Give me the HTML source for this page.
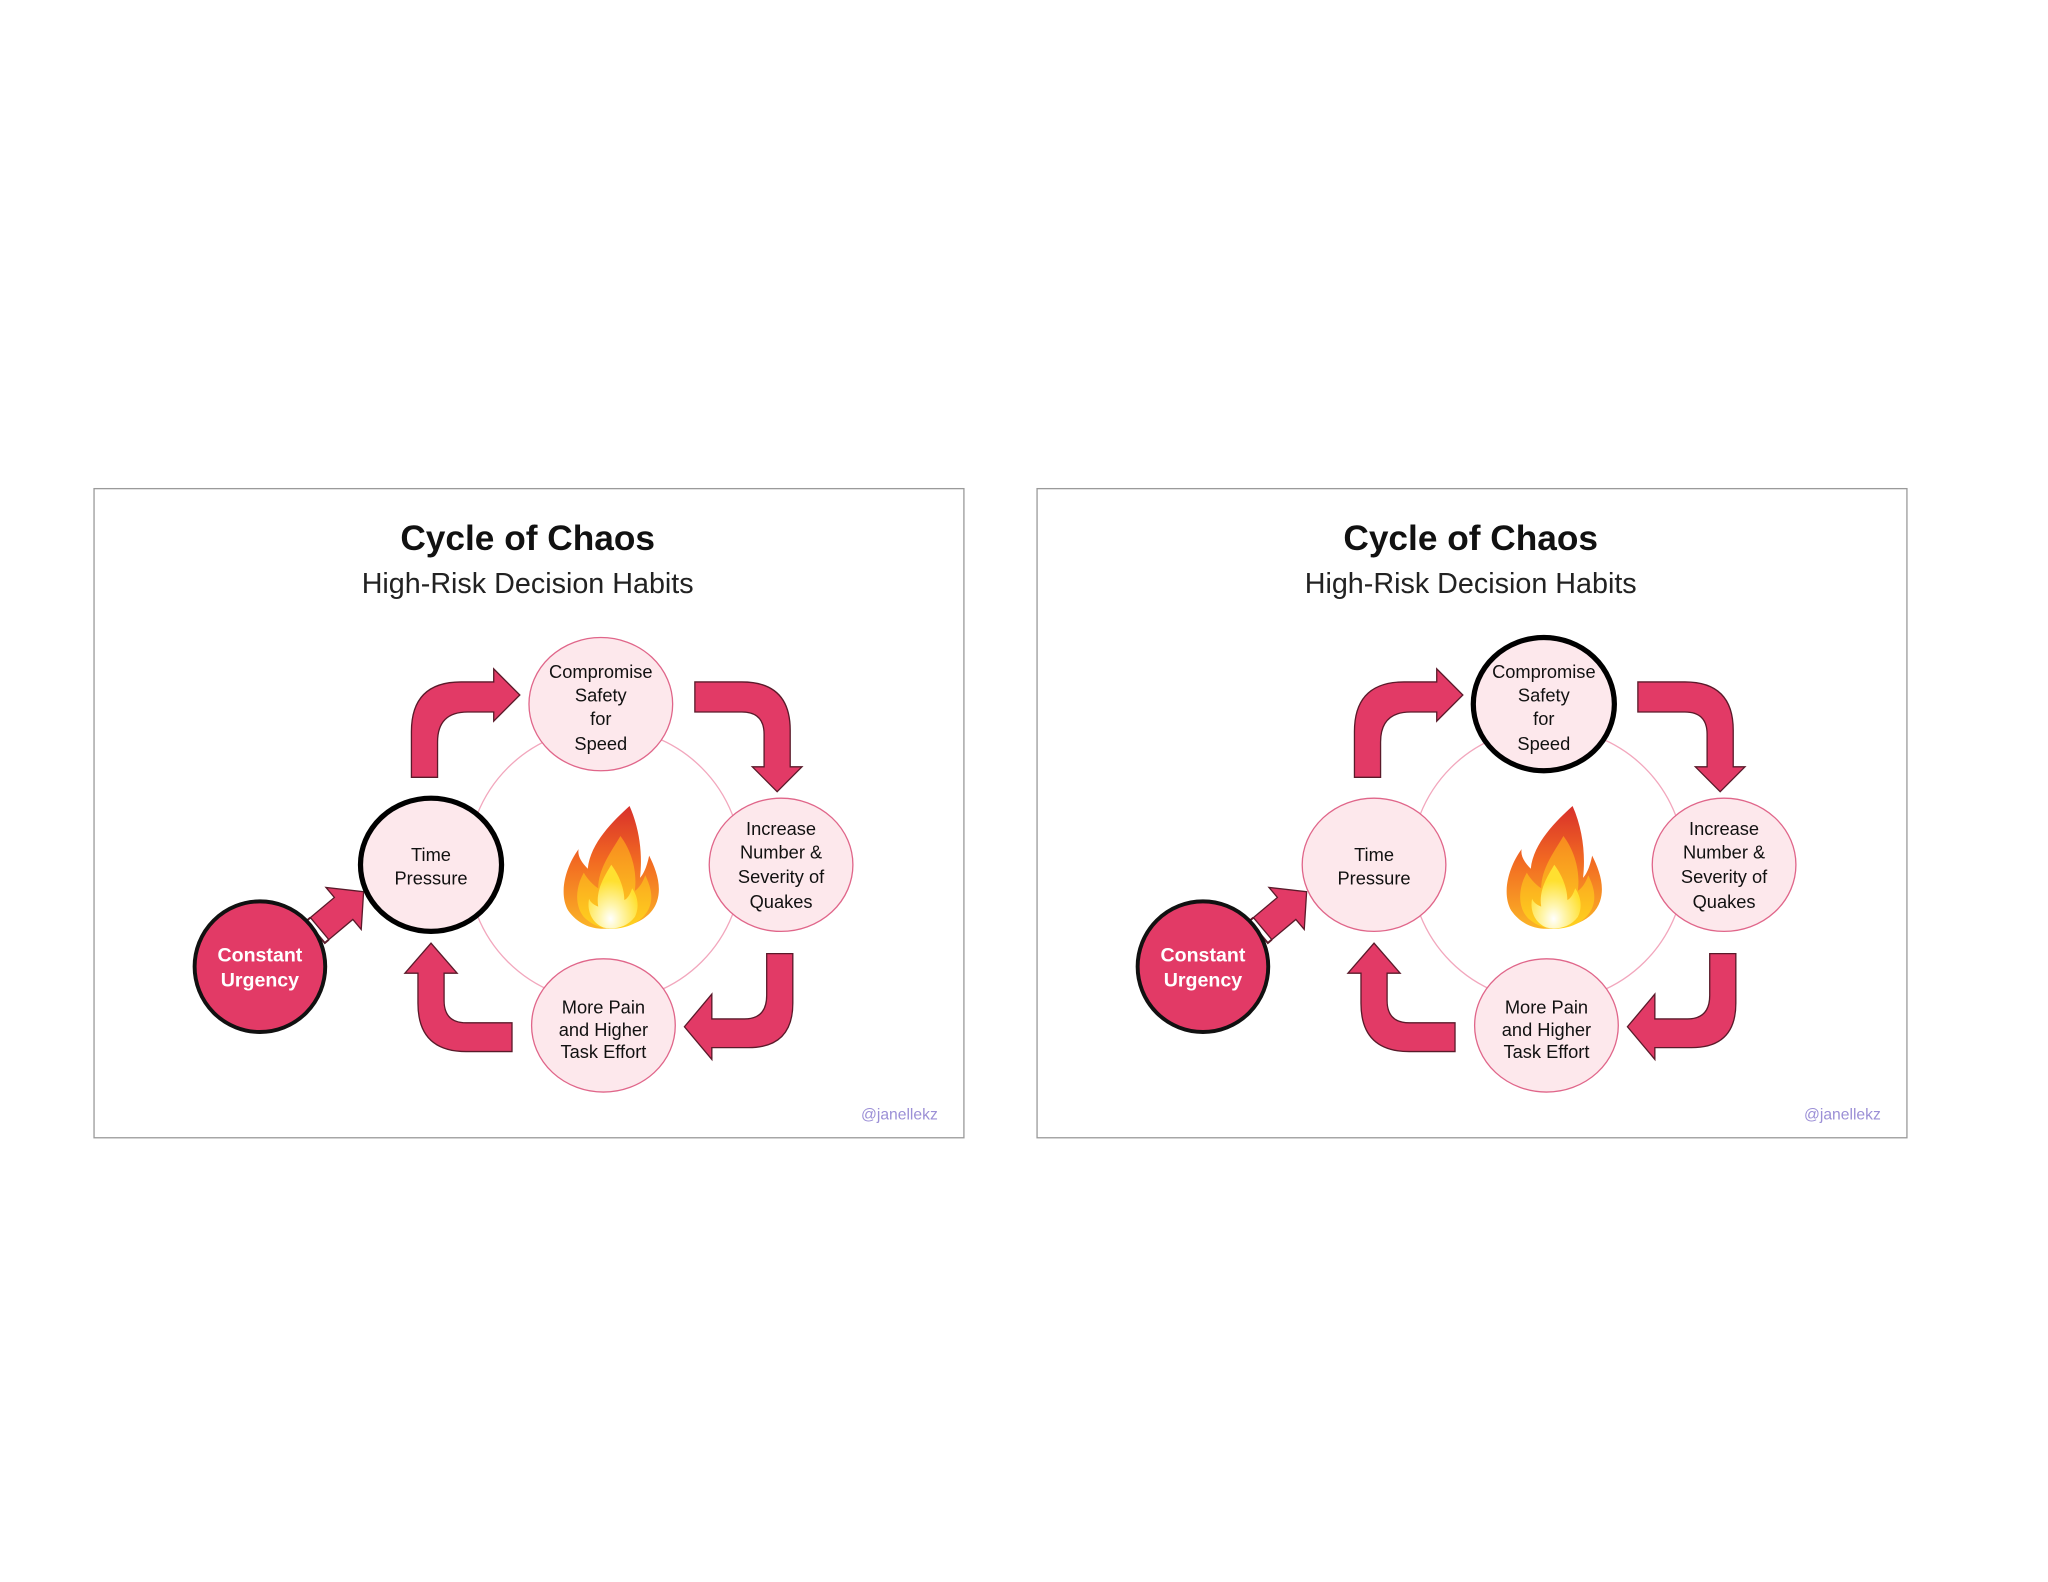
<!DOCTYPE html>
<html><head><meta charset="utf-8"><style>
html,body{margin:0;padding:0;background:#fff;}
svg{display:block;}
text{font-family:"Liberation Sans","DejaVu Sans",sans-serif;}
</style></head><body>
<svg width="2048" height="1582" viewBox="0 0 1568 1211" xmlns="http://www.w3.org/2000/svg">
<defs>
<linearGradient id="fo" x1="0" y1="0" x2="0" y2="1">
<stop offset="0" stop-color="#d8302b"/><stop offset="0.45" stop-color="#f26a22"/><stop offset="1" stop-color="#fbb526"/></linearGradient>
<linearGradient id="fm" x1="0" y1="0" x2="0" y2="1">
<stop offset="0" stop-color="#f78a1f"/><stop offset="1" stop-color="#ffd21f"/></linearGradient>
<radialGradient id="fi" cx="0.45" cy="0.85" r="0.6">
<stop offset="0" stop-color="#ffffff"/><stop offset="0.35" stop-color="#fff6b0"/><stop offset="1" stop-color="#ffe030"/></radialGradient>
</defs>
<rect width="1568" height="1211" fill="#fff"/>

<!-- LEFT PANEL -->
<g>
<rect x="72" y="374" width="666" height="497" fill="#fff" stroke="#9a9a9a" stroke-width="1"/>
<text x="404" y="421" text-anchor="middle" font-size="27" font-weight="bold" fill="#111">Cycle of Chaos</text>
<text x="404" y="454" text-anchor="middle" font-size="22" fill="#222">High-Risk Decision Habits</text>
<circle cx="463" cy="662" r="105" fill="none" stroke="#f2a7bd" stroke-width="1"/>
<path d="M315,595 L315,560 Q315,522 353,522 L378,522 L378,512 L398,532 L378,552 L378,545 L358,545 Q335,545 335,568 L335,595 Z" fill="#e23a66" stroke="#5a1a2a" stroke-width="1"/>
<path d="M532,522 L568,522 Q605,522 605,559 L605,587 L614,587 L595,606 L576,587 L585,587 L585,562 Q585,545 568,545 L532,545 Z" fill="#e23a66" stroke="#5a1a2a" stroke-width="1"/>
<path d="M587,730 L607,730 L607,768 Q607,802 573,802 L545,802 L545,811 L524,786 L545,761 L545,780 L570,780 Q587,780 587,762 Z" fill="#e23a66" stroke="#5a1a2a" stroke-width="1"/>
<path d="M392,783 L392,805 L357,805 Q320,805 320,768 L320,745 L310,745 L330,722 L350,745 L340,745 L340,766 Q340,783 357,783 Z" fill="#e23a66" stroke="#5a1a2a" stroke-width="1"/>
<g transform="translate(260,698) rotate(-40)">
<path d="M-20,-11 L4,-11 L4,-21 L24,0 L4,21 L4,11 L-20,11 Z" fill="#e23a66" stroke="#5a1a2a" stroke-width="1"/>
<path d="M-20,-11 L-24,-11 L-24,11 L-20,11 M-27,-11 L-27,11" stroke="#5a1a2a" stroke-width="1.5" fill="none"/>
</g>
<ellipse cx="460" cy="539" rx="55" ry="51" fill="#fde8ec" stroke="#e0668a" stroke-width="1"/>
<ellipse cx="598" cy="662" rx="55" ry="51" fill="#fde8ec" stroke="#e0668a" stroke-width="1"/>
<ellipse cx="462" cy="785" rx="55" ry="51" fill="#fde8ec" stroke="#e0668a" stroke-width="1"/>
<ellipse cx="330" cy="662" rx="54" ry="51" fill="#fde8ec" stroke="#000" stroke-width="4"/>
<ellipse cx="199" cy="740" rx="50" ry="50" fill="#e23a66" stroke="#111" stroke-width="3"/>
<g font-size="14" fill="#111" text-anchor="middle">
<text x="460" y="519">Compromise</text><text x="460" y="537">Safety</text><text x="460" y="555">for</text><text x="460" y="574">Speed</text>
<text x="598" y="639">Increase</text><text x="598" y="657">Number &amp;</text><text x="598" y="676">Severity of</text><text x="598" y="695">Quakes</text>
<text x="330" y="659">Time</text><text x="330" y="677">Pressure</text>
<text x="462" y="776">More Pain</text><text x="462" y="793">and Higher</text><text x="462" y="810">Task Effort</text>
</g>
<g font-size="15" font-weight="bold" fill="#fff" text-anchor="middle">
<text x="199" y="736">Constant</text><text x="199" y="755">Urgency</text>
</g>
<path d="M482,617 C470,628 452,645 450,665 C445,660 442,655 443,650 C432,665 428,685 435,697 C442,707 452,711 462,711 C480,711 498,705 503,690 C507,678 502,665 497,655 C495,665 492,670 490,672 C492,655 490,635 482,617 Z" fill="url(#fo)"/>
<path d="M475,640 C468,652 458,665 458,680 C452,676 448,670 447,668 C440,680 440,695 448,703 C455,709 462,711 468,711 C482,711 495,704 498,692 C500,684 497,676 494,670 C492,676 489,680 486,682 C488,668 484,652 475,640 Z" fill="url(#fm)"/>
<path d="M468,662 C462,672 456,682 458,694 C453,692 452,690 451,688 C449,698 454,707 462,710 C470,712 480,710 486,702 C490,694 488,686 484,680 C482,686 480,688 478,689 C478,680 474,670 468,662 Z" fill="url(#fi)"/>
<text x="718" y="857" text-anchor="end" font-size="12" fill="#9b8fd6">@janellekz</text>
</g>

<!-- RIGHT PANEL -->
<g transform="translate(722,0)">
<rect x="72" y="374" width="666" height="497" fill="#fff" stroke="#9a9a9a" stroke-width="1"/>
<text x="404" y="421" text-anchor="middle" font-size="27" font-weight="bold" fill="#111">Cycle of Chaos</text>
<text x="404" y="454" text-anchor="middle" font-size="22" fill="#222">High-Risk Decision Habits</text>
<circle cx="463" cy="662" r="105" fill="none" stroke="#f2a7bd" stroke-width="1"/>
<path d="M315,595 L315,560 Q315,522 353,522 L378,522 L378,512 L398,532 L378,552 L378,545 L358,545 Q335,545 335,568 L335,595 Z" fill="#e23a66" stroke="#5a1a2a" stroke-width="1"/>
<path d="M532,522 L568,522 Q605,522 605,559 L605,587 L614,587 L595,606 L576,587 L585,587 L585,562 Q585,545 568,545 L532,545 Z" fill="#e23a66" stroke="#5a1a2a" stroke-width="1"/>
<path d="M587,730 L607,730 L607,768 Q607,802 573,802 L545,802 L545,811 L524,786 L545,761 L545,780 L570,780 Q587,780 587,762 Z" fill="#e23a66" stroke="#5a1a2a" stroke-width="1"/>
<path d="M392,783 L392,805 L357,805 Q320,805 320,768 L320,745 L310,745 L330,722 L350,745 L340,745 L340,766 Q340,783 357,783 Z" fill="#e23a66" stroke="#5a1a2a" stroke-width="1"/>
<g transform="translate(260,698) rotate(-40)">
<path d="M-20,-11 L4,-11 L4,-21 L24,0 L4,21 L4,11 L-20,11 Z" fill="#e23a66" stroke="#5a1a2a" stroke-width="1"/>
<path d="M-20,-11 L-24,-11 L-24,11 L-20,11 M-27,-11 L-27,11" stroke="#5a1a2a" stroke-width="1.5" fill="none"/>
</g>
<ellipse cx="460" cy="539" rx="54" ry="51" fill="#fde8ec" stroke="#000" stroke-width="4"/>
<ellipse cx="598" cy="662" rx="55" ry="51" fill="#fde8ec" stroke="#e0668a" stroke-width="1"/>
<ellipse cx="462" cy="785" rx="55" ry="51" fill="#fde8ec" stroke="#e0668a" stroke-width="1"/>
<ellipse cx="330" cy="662" rx="55" ry="51" fill="#fde8ec" stroke="#e0668a" stroke-width="1"/>
<ellipse cx="199" cy="740" rx="50" ry="50" fill="#e23a66" stroke="#111" stroke-width="3"/>
<g font-size="14" fill="#111" text-anchor="middle">
<text x="460" y="519">Compromise</text><text x="460" y="537">Safety</text><text x="460" y="555">for</text><text x="460" y="574">Speed</text>
<text x="598" y="639">Increase</text><text x="598" y="657">Number &amp;</text><text x="598" y="676">Severity of</text><text x="598" y="695">Quakes</text>
<text x="330" y="659">Time</text><text x="330" y="677">Pressure</text>
<text x="462" y="776">More Pain</text><text x="462" y="793">and Higher</text><text x="462" y="810">Task Effort</text>
</g>
<g font-size="15" font-weight="bold" fill="#fff" text-anchor="middle">
<text x="199" y="736">Constant</text><text x="199" y="755">Urgency</text>
</g>
<path d="M482,617 C470,628 452,645 450,665 C445,660 442,655 443,650 C432,665 428,685 435,697 C442,707 452,711 462,711 C480,711 498,705 503,690 C507,678 502,665 497,655 C495,665 492,670 490,672 C492,655 490,635 482,617 Z" fill="url(#fo)"/>
<path d="M475,640 C468,652 458,665 458,680 C452,676 448,670 447,668 C440,680 440,695 448,703 C455,709 462,711 468,711 C482,711 495,704 498,692 C500,684 497,676 494,670 C492,676 489,680 486,682 C488,668 484,652 475,640 Z" fill="url(#fm)"/>
<path d="M468,662 C462,672 456,682 458,694 C453,692 452,690 451,688 C449,698 454,707 462,710 C470,712 480,710 486,702 C490,694 488,686 484,680 C482,686 480,688 478,689 C478,680 474,670 468,662 Z" fill="url(#fi)"/>
<text x="718" y="857" text-anchor="end" font-size="12" fill="#9b8fd6">@janellekz</text>
</g>
</svg>
</body></html>
